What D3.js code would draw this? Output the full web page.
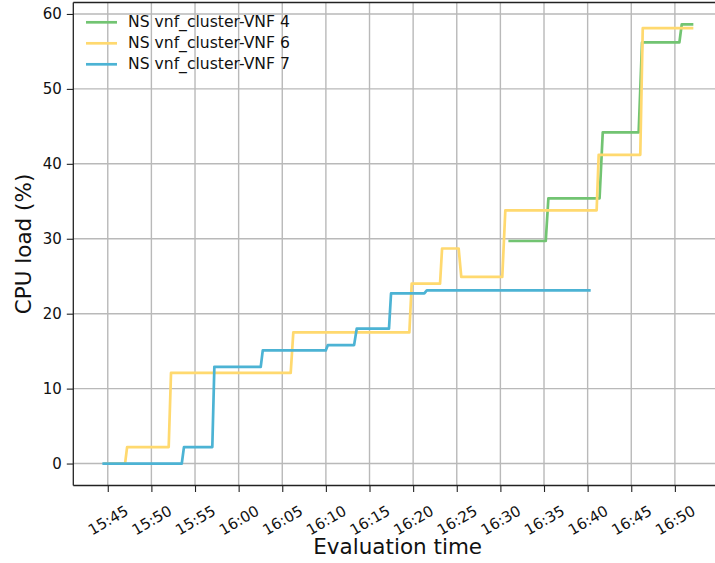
<!DOCTYPE html>
<html><head><meta charset="utf-8">
<script src="https://cdn.jsdelivr.net/npm/d3@7"></script>
<style>body{margin:0;background:#fff;overflow:hidden} svg{display:block} text{font-family:"DejaVu Sans",sans-serif}</style>
</head><body><svg id="c" width="715" height="563"></svg>
<script>
// ---- data ----
const seriesNames = ["NS vnf_cluster-VNF 4", "NS vnf_cluster-VNF 6", "NS vnf_cluster-VNF 7"];
const seriesColors = ["#72c472", "#ffd96f", "#4cb3d4"];

const vnf4Times  = ["16:30:55","16:35:12","16:35:30","16:41:22","16:41:44","16:45:51","16:46:14","16:50:31","16:50:47","16:52:07"];
const vnf4Values = [29.7, 29.7, 35.4, 35.4, 44.2, 44.2, 56.2, 56.2, 58.6, 58.6];

const vnf6Times  = ["15:44:30","15:46:59","15:47:13","15:51:59","15:52:15","16:05:58","16:06:16","16:19:34","16:19:50","16:23:05","16:23:19","16:25:13","16:25:31","16:30:13","16:30:34","16:41:02","16:41:16","16:46:02","16:46:19","16:52:07"];
const vnf6Values = [0, 0, 2.2, 2.2, 12.1, 12.1, 17.5, 17.5, 24.0, 24.0, 28.7, 28.7, 24.9, 24.9, 33.8, 33.8, 41.2, 41.2, 58.1, 58.1];

const vnf7Times  = ["15:44:23","15:53:29","15:53:44","15:56:59","15:57:13","16:02:32","16:02:46","16:09:59","16:10:13","16:13:14","16:13:32","16:17:14","16:17:28","16:21:17","16:21:34","16:40:21"];
const vnf7Values = [0, 0, 2.2, 2.2, 12.9, 12.9, 15.1, 15.1, 15.8, 15.8, 18.0, 18.0, 22.7, 22.7, 23.1, 23.1];

const xTickLabels = ["15:45","15:50","15:55","16:00","16:05","16:10","16:15","16:20","16:25","16:30","16:35","16:40","16:45","16:50"];
const yTicks = [0, 10, 20, 30, 40, 50, 60];
const xAxisTitle = "Evaluation time";
const yAxisTitle = "CPU load (%)";

// ---- layout ----
const svg = d3.select("#c");
const L = 73.3, T = 2.5, R = 722, B = 485.5;
const parse = d3.timeParse("%H:%M:%S");
const parseHM = d3.timeParse("%H:%M");

const x = d3.scaleTime().domain([parse("15:41:03"), parse("16:55:24")]).range([L, R]);
const y = d3.scaleLinear().domain([-2.93, 61.53]).range([B, T]);

const series = [
  {name: seriesNames[0], color: seriesColors[0], pts: vnf4Times.map((t, i) => [parse(t), vnf4Values[i]])},
  {name: seriesNames[1], color: seriesColors[1], pts: vnf6Times.map((t, i) => [parse(t), vnf6Values[i]])},
  {name: seriesNames[2], color: seriesColors[2], pts: vnf7Times.map((t, i) => [parse(t), vnf7Values[i]])}
];

const xTicks = xTickLabels.map(s => parseHM(s));

// grid
const grid = svg.append("g");
grid.selectAll("line.gx").data(xTicks).join("line")
  .attr("x1", d => x(d)).attr("x2", d => x(d)).attr("y1", T).attr("y2", B)
  .attr("stroke", "#b9b9b9").attr("stroke-width", 1.4);
grid.selectAll("line.gy").data(yTicks).join("line")
  .attr("x1", L).attr("x2", R).attr("y1", d => y(d)).attr("y2", d => y(d))
  .attr("stroke", "#b9b9b9").attr("stroke-width", 1.4);

// lines
const line = d3.line().x(d => x(d[0])).y(d => y(d[1]));
svg.append("g").selectAll("path").data(series).join("path")
  .attr("d", d => line(d.pts))
  .attr("fill", "none").attr("stroke", d => d.color)
  .attr("stroke-width", 2.7).attr("stroke-linejoin", "round");

// axes
const xAxis = svg.append("g").attr("transform", `translate(0,${B})`)
  .call(d3.axisBottom(x).tickValues(xTicks).tickSize(6.5).tickFormat(d3.timeFormat("%H:%M")));
xAxis.select(".domain").remove();
xAxis.selectAll(".tick line").attr("stroke", "#222").attr("stroke-width", 1.1);
xAxis.selectAll(".tick text")
  .attr("font-size", 15).attr("fill", "#111")
  .attr("text-anchor", "middle").attr("dy", null).attr("y", null)
  .attr("dominant-baseline", "central")
  .attr("transform", "translate(0,35) rotate(-30)");

const yAxis = svg.append("g").attr("transform", `translate(${L},0)`)
  .call(d3.axisLeft(y).tickValues(yTicks).tickSize(6.5).tickPadding(5));
yAxis.select(".domain").remove();
yAxis.selectAll(".tick line").attr("stroke", "#222").attr("stroke-width", 1.1);
yAxis.selectAll(".tick text").attr("font-size", 15).attr("fill", "#111");

// spines
const sp = svg.append("g").attr("stroke", "#222").attr("stroke-width", 1.3).attr("fill", "none");
sp.append("line").attr("x1", L).attr("x2", L).attr("y1", T).attr("y2", B);
sp.append("line").attr("x1", L).attr("x2", R).attr("y1", B).attr("y2", B);
sp.append("line").attr("x1", L).attr("x2", R).attr("y1", T).attr("y2", T);

// axis titles
svg.append("text").attr("x", (L + R) / 2).attr("y", 554).attr("text-anchor", "middle")
  .attr("font-size", 21.5).attr("fill", "#111").text(xAxisTitle);
svg.append("text").attr("transform", `translate(31,${(T + B) / 2}) rotate(-90)`).attr("text-anchor", "middle")
  .attr("font-size", 21.5).attr("fill", "#111").text(yAxisTitle);

// legend
const lg = svg.append("g").selectAll("g").data(series).join("g")
  .attr("transform", (d, i) => `translate(86,${22.3 + i * 21})`);
lg.append("line").attr("x1", 0).attr("x2", 31).attr("stroke", d => d.color).attr("stroke-width", 2.7);
lg.append("text").attr("x", 42).attr("dominant-baseline", "central").attr("font-size", 15.6)
  .attr("fill", "#111").text(d => d.name);
</script></body></html>
